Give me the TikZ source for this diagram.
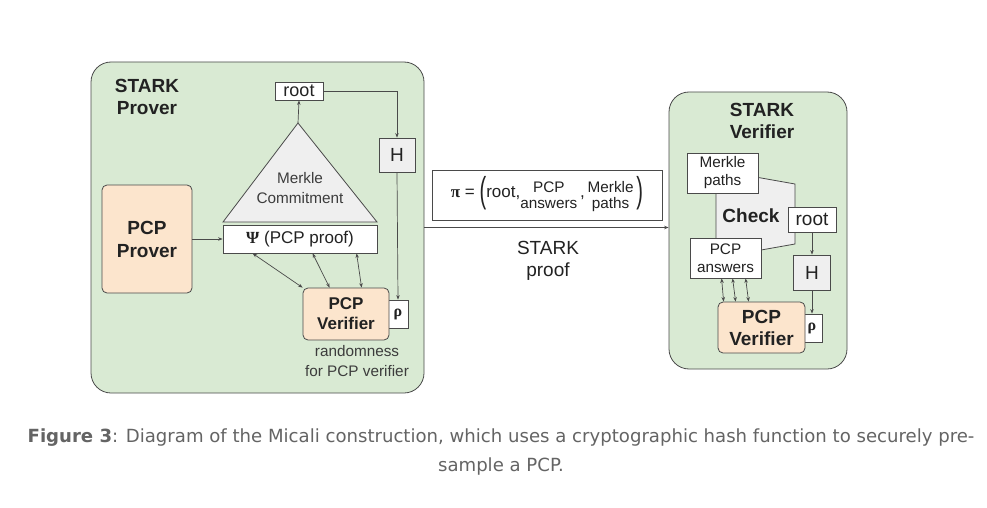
\documentclass[tikz,border=0pt]{standalone}
\usepackage{fontspec}
\setmainfont{Liberation Sans}
\newfontfamily\greekFont{Liberation Serif}
\newfontfamily\captionFont{DejaVu Sans}
\usetikzlibrary{arrows.meta}
\definecolor{frameGreen}{HTML}{D9EAD3}
\definecolor{boxPeach}{HTML}{FCE5CD}
\definecolor{boxGray}{HTML}{EFEFEF}
\definecolor{lineGray}{HTML}{4A4A4A}
\definecolor{textDark}{HTML}{222222}
\definecolor{textGray}{HTML}{3C3C3C}
\definecolor{captionGray}{HTML}{646464}
\newcommand\boxColor{lineGray}
\newcommand\boxLineWidth{0.8pt}
\newcommand\arrowColor{lineGray}
\newcommand\arrowLineWidth{0.7pt}
\newcommand\frameRadius{20pt}
\newcommand\bigFont{\fontsize{19}{22}\selectfont}
\newcommand\midFont{\fontsize{17}{20}\selectfont}
\newcommand\smallFont{\fontsize{15.3}{18}\selectfont}
\newcommand\greekSign[1]{{\greekFont\bfseries #1}}

\tikzset{
    frameBox/.style={draw=\boxColor, line width=\boxLineWidth, fill=frameGreen, rounded corners=\frameRadius, shape=rectangle, anchor=center},
    plainBox/.style={draw=\boxColor, line width=\boxLineWidth, fill=white, shape=rectangle, inner sep=0pt, anchor=center, align=center, text=textDark},
    peachBox/.style={plainBox, fill=boxPeach, rounded corners=5pt, font=\bigFont\bfseries},
    hashBox/.style={plainBox, fill=boxGray, font=\bigFont},
    rhoBox/.style={plainBox, minimum width=20pt, minimum height=28pt, font=\fontsize{16}{18}\selectfont},
    titleText/.style={align=center, font=\bigFont\bfseries, text=textDark, inner sep=0pt},
    arrowLine/.style={draw=\arrowColor, line width=\arrowLineWidth, -{Stealth[length=4.5pt,width=3.5pt]}},
    twoArrow/.style={arrowLine, {Stealth[length=4.5pt,width=3.5pt]}-{Stealth[length=4.5pt,width=3.5pt]}}
}

\begin{document}
\begin{tikzpicture}[x=1pt, y=-1pt]

    \useasboundingbox[fill=white] (0,0) rectangle (987,508);

%    prover side
    \node [frameBox, minimum width=333pt, minimum height=331pt] (Prover_Frame) at (257.5,227.5) {};
    \node [titleText] (Prover_Title) at (147,97) {STARK\\Prover};

    \coordinate (Tri_Apex) at (298,123);
    \filldraw [draw=\boxColor, line width=\boxLineWidth, fill=boxGray] (Tri_Apex) -- (223,222) -- (377,222) -- cycle;
    \node [align=center, font=\smallFont, text=textGray] (Merkle_Text) at (300,188) {Merkle\\[2pt]Commitment};

    \node [plainBox, minimum width=48pt, minimum height=18pt, font=\fontsize{18}{20}\selectfont] (Root_Left) at (299,91) {root};
    \node [hashBox, minimum width=36pt, minimum height=34pt] (Hash_Left) at (397,155) {H};
    \node [rhoBox] (Rho_Left) at (398,314) {\greekSign{ρ}};

    \node [plainBox, minimum width=154pt, minimum height=28pt, font=\midFont] (Proof_Box) at (300,239) {\greekSign{Ψ} (PCP proof)};
    \node [peachBox, minimum width=90pt, minimum height=108pt] (Prover_Box) at (147,239) {PCP\\[1pt]Prover};
    \node [peachBox, minimum width=86pt, minimum height=52pt, font=\midFont\bfseries] (Verifier_Box) at (346,314) {PCP\\Verifier};
    \node [align=center, font=\smallFont, text=textGray] (Random_Text) at (357,361) {randomness\\[2pt]for PCP verifier};

    \draw [arrowLine] (Prover_Box.east) -- (Proof_Box.west);
    \draw [arrowLine] (Tri_Apex) -- (Root_Left.south);
    \draw [arrowLine] (Root_Left.east) -| (Hash_Left.north);
    \draw [arrowLine] (Hash_Left.south) -- (Rho_Left.north);

    \draw [twoArrow] ([xshift=30pt]Proof_Box.south west) -- ([xshift=0pt]Verifier_Box.north west);
    \draw [twoArrow] ([xshift=90pt]Proof_Box.south west) -- ([xshift=27pt]Verifier_Box.north west);
    \draw [twoArrow] ([xshift=134pt]Proof_Box.south west) -- ([xshift=59pt]Verifier_Box.north west);

%    verifier side
    \node [frameBox, minimum width=178pt, minimum height=277pt] (Verifier_Frame) at (758,230.5) {};
    \node [titleText] (Verifier_Title) at (762,121) {STARK\\Verifier};

    \filldraw [draw=\boxColor, line width=\boxLineWidth, fill=boxGray] (716,170) -- (795,184) -- (795,244) -- (716,258) -- cycle;
    \node [titleText] (Check_Text) at (751,216) {Check};

    \node [plainBox, minimum width=71pt, minimum height=40pt, font=\smallFont] (Paths_Box) at (722.5,173) {Merkle\\paths};
    \node [plainBox, minimum width=71pt, minimum height=40pt, font=\smallFont] (Answers_Box) at (725.5,258) {PCP\\answers};
    \node [plainBox, minimum width=48pt, minimum height=25pt, font=\bigFont] (Root_Right) at (812,219.5) {root};
    \node [hashBox, minimum width=37pt, minimum height=35pt] (Hash_Right) at (812,272.5) {H};
    \node [rhoBox] (Rho_Right) at (812,328) {\greekSign{ρ}};
    \node [peachBox, minimum width=87pt, minimum height=51pt] (Verifier_Box_R) at (761.5,327.5) {PCP\\Verifier};

    \draw [arrowLine] (Root_Right.south) -- (Hash_Right.north);
    \draw [arrowLine] (Hash_Right.south) -- (Rho_Right.north);

    \draw [twoArrow] ([xshift=32pt]Answers_Box.south west) -- ([xshift=6pt]Verifier_Box_R.north west);
    \draw [twoArrow] ([xshift=43pt]Answers_Box.south west) -- ([xshift=18pt]Verifier_Box_R.north west);
    \draw [twoArrow] ([xshift=56pt]Answers_Box.south west) -- ([xshift=31pt]Verifier_Box_R.north west);

%    proof in the middle
    \node [plainBox, minimum width=230pt, minimum height=50pt, font=\midFont] (Pi_Box) at (547,195)
        {\greekSign{π} = \raisebox{-5pt}{\scalebox{1}[1.8]{\fontsize{20}{20}\selectfont(}}root,\raisebox{-3pt}{\smallFont\renewcommand\arraystretch{0.9}\begin{tabular}{@{}c@{}}PCP\\answers\end{tabular}}\,,\,\raisebox{-3pt}{\smallFont\renewcommand\arraystretch{0.9}\begin{tabular}{@{}c@{}}Merkle\\paths\end{tabular}}\,\raisebox{-5pt}{\scalebox{1}[1.8]{\fontsize{20}{20}\selectfont)}}};
    \node [align=center, font=\bigFont, text=textDark] (Stark_Proof) at (548,261) {STARK\\proof};

    \draw [arrowLine] (Prover_Frame.east) -- (Prover_Frame.east -| Verifier_Frame.west);

%    caption
    \node [align=center, font=\captionFont\fontsize{18.1}{29}\selectfont, text=captionGray] (Caption_Text) at (501,452)
        {\textbf{Figure 3}: Diagram of the Micali construction, which uses a cryptographic hash function to securely pre-\\sample a PCP.};

\end{tikzpicture}
\end{document}
